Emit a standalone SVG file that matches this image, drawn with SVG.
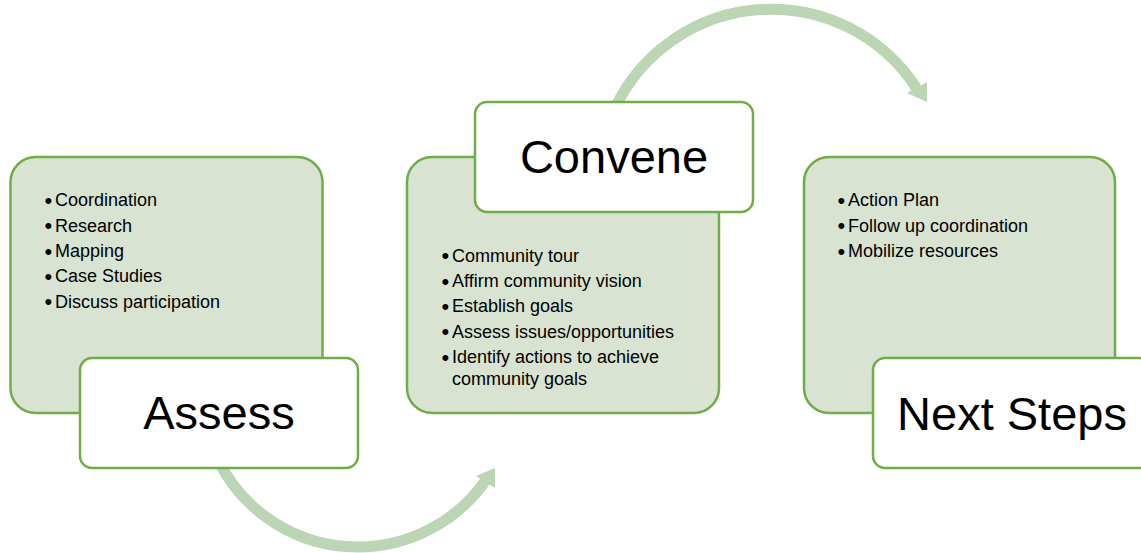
<svg xmlns="http://www.w3.org/2000/svg" width="1141" height="553" viewBox="0 0 1141 553">
<style>
.panel{fill:#d8e4d1;stroke:#70ad47;stroke-width:2.5}
.label{fill:#ffffff;stroke:#70ad47;stroke-width:2.5}
.title{font-family:"Liberation Sans",Arial,sans-serif;font-size:47px;fill:#000;text-anchor:middle}
.item{font-family:"Liberation Sans",Arial,sans-serif;font-size:18px;fill:#000}
.bul{font-family:"Liberation Sans",Arial,sans-serif;font-size:22px;fill:#000}
.arc{fill:none;stroke:#bcd5b4;stroke-width:11}
.head{fill:#bcd5b4}
</style>
<rect width="1141" height="553" fill="#ffffff"/>
<g id="connectors">
  <path class="arc" d="M 218 460 A 156 156 0 0 0 486 480"/>
  <polygon class="head" points="495,468 476,476 495,488"/>
  <path class="arc" d="M 615 108 A 173 173 0 0 1 917 89"/>
  <polygon class="head" points="927,102 927,82 907,93"/>
</g>
<g id="assess">
  <rect class="panel" x="10.5" y="157" width="312" height="256" rx="25"/>
  <text class="bul" x="44.5" y="207.5">•</text><text class="item" x="55" y="206">Coordination</text>
  <text class="bul" x="44.5" y="233">•</text><text class="item" x="55" y="231.5">Research</text>
  <text class="bul" x="44.5" y="258.5">•</text><text class="item" x="55" y="257">Mapping</text>
  <text class="bul" x="44.5" y="283.5">•</text><text class="item" x="55" y="282">Case Studies</text>
  <text class="bul" x="44.5" y="309">•</text><text class="item" x="55" y="307.5">Discuss participation</text>
  <rect class="label" x="80" y="358" width="278" height="110" rx="12"/>
  <text class="title" x="219" y="429">Assess</text>
</g>
<g id="convene">
  <rect class="panel" x="407" y="157" width="312" height="256" rx="25"/>
  <rect class="label" x="475" y="102" width="278" height="110" rx="12"/>
  <text class="title" x="614" y="173">Convene</text>
  <text class="bul" x="441.5" y="263">•</text><text class="item" x="452" y="261.5">Community tour</text>
  <text class="bul" x="441.5" y="288.5">•</text><text class="item" x="452" y="287">Affirm community vision</text>
  <text class="bul" x="441.5" y="313.5">•</text><text class="item" x="452" y="312">Establish goals</text>
  <text class="bul" x="441.5" y="339">•</text><text class="item" x="452" y="337.5">Assess issues/opportunities</text>
  <text class="bul" x="441.5" y="364.5">•</text><text class="item" x="452" y="363">Identify actions to achieve</text>
  <text class="item" x="452" y="385">community goals</text>
</g>
<g id="next-steps">
  <rect class="panel" x="804" y="157" width="311" height="256" rx="25"/>
  <text class="bul" x="837.5" y="207.5">•</text><text class="item" x="848" y="206">Action Plan</text>
  <text class="bul" x="837.5" y="233">•</text><text class="item" x="848" y="231.5">Follow up coordination</text>
  <text class="bul" x="837.5" y="258.5">•</text><text class="item" x="848" y="257">Mobilize resources</text>
  <rect class="label" x="873" y="358" width="278" height="110" rx="12"/>
  <text class="title" x="1012" y="430">Next Steps</text>
</g>
</svg>
